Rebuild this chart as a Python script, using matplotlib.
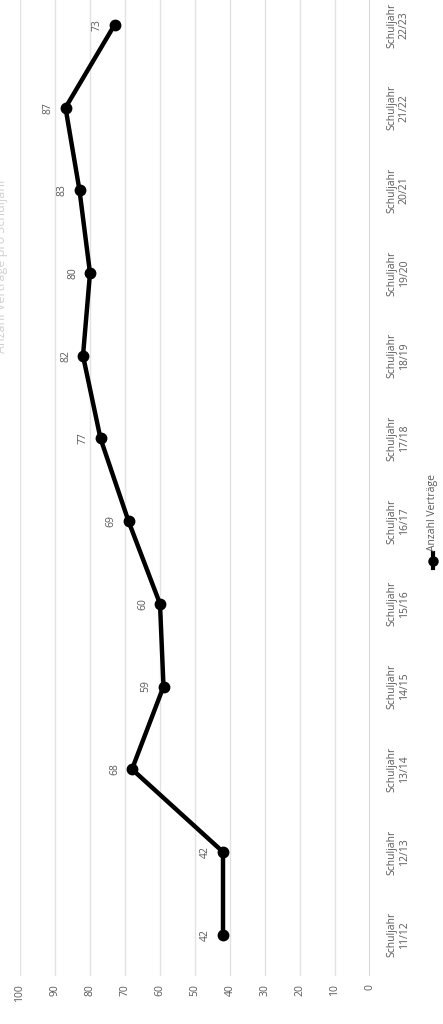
import matplotlib.pyplot as plt
from matplotlib.lines import Line2D

# --- data ---
schuljahre = ["11/12", "12/13", "13/14", "14/15", "15/16", "16/17",
              "17/18", "18/19", "19/20", "20/21", "21/22", "22/23"]
vertraege = [42, 42, 68, 59, 60, 69, 77, 82, 80, 83, 87, 73]
value_ticks = [0, 10, 20, 30, 40, 50, 60, 70, 80, 90, 100]
series_name = "Anzahl Verträge"
title_text = "Anzahl Verträge pro Schuljahr"

plt.rcParams['font.family'] = ['Open Sans', 'DejaVu Sans']
txt_col = "#595959"

W, H = 443, 1024
fig = plt.figure(figsize=(W / 100, H / 100), dpi=100)
fig.patch.set_facecolor("white")

# chart is rotated 90 degrees: values run right->left, categories bottom->top
left_px, right_px = 20, 370
bottom_px, top_px = 976, -16.4
ax = fig.add_axes([left_px / W, 1 - bottom_px / H,
                   (right_px - left_px) / W, (bottom_px - top_px) / H])

idx = list(range(len(schuljahre)))
ax.plot(vertraege, idx, color="black", lw=3.2, marker="o", ms=7.5,
        solid_joinstyle="round", zorder=4, clip_on=False)

# data labels sit on the "high value" side of each point
for v, i in zip(vertraege, idx):
    ax.annotate(str(v), xy=(v, i), xytext=(-12.5, 0), textcoords="offset points",
                rotation=90, ha="center", va="center", fontsize=7.5, color=txt_col)

ax.set_xlim(100, 0)
ax.set_ylim(-0.5, len(schuljahre) - 0.5)
ax.set_xticks(value_ticks)
ax.set_xticklabels([str(t) for t in value_ticks], rotation=90, fontsize=7.5, color=txt_col)
ax.tick_params(axis="x", length=0, pad=6)

ax.yaxis.tick_right()
ax.set_yticks(idx)
ax.set_yticklabels([f"Schuljahr\n{s}" for s in schuljahre], rotation=90,
                   fontsize=7.5, color=txt_col, va="center", ha="left",
                   multialignment="center", linespacing=1.15)
ax.tick_params(axis="y", length=0, pad=12)

ax.grid(axis="x", color="#e3e3e3", lw=1)
ax.axvline(0, color="#cfcfcf", lw=1.2, zorder=1)
for s in ax.spines.values():
    s.set_visible(False)
ax.set_axisbelow(True)

# legend, rotated like the rest
lx = 433 / W
fig.add_artist(Line2D([lx, lx], [1 - 568 / H, 1 - 553 / H], color="black", lw=3))
fig.add_artist(Line2D([lx], [1 - 560.5 / H], color="black", marker="o", ms=6.5))
fig.text(lx, 1 - 551 / H, series_name, rotation=90, ha="center", va="bottom",
         fontsize=7.5, color=txt_col)

# faint, cut-off title at the left edge
fig.text(2 / W, 1 - 265 / H, title_text, rotation=90, ha="center", va="center",
         fontsize=9, color="#d0d0d0")

fig.savefig("out.png", dpi=100)
